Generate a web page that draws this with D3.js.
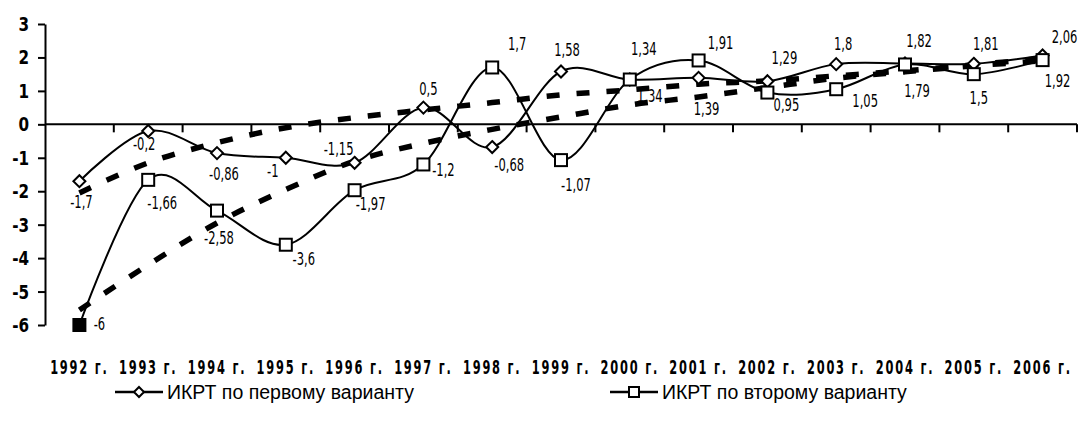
<!DOCTYPE html>
<html><head><meta charset="utf-8">
<script src="https://cdn.jsdelivr.net/npm/d3@7"></script>
<style>
html,body{margin:0;padding:0;background:#fff;}
svg{display:block;}
</style></head>
<body>
<svg id="chart" width="1081" height="422"></svg>
<script>
// ---- data ----
const years = ["1992 г.","1993 г.","1994 г.","1995 г.","1996 г.","1997 г.","1998 г.","1999 г.","2000 г.","2001 г.","2002 г.","2003 г.","2004 г.","2005 г.","2006 г."];
const series1Name = "ИКРТ по первому варианту";
const series2Name = "ИКРТ по второму варианту";
const series1 = [-1.7,-0.2,-0.86,-1,-1.15,0.5,-0.68,1.58,1.34,1.39,1.29,1.8,1.82,1.81,2.06];
const series2 = [-6,-1.66,-2.58,-3.6,-1.97,-1.2,1.7,-1.07,1.34,1.91,0.95,1.05,1.79,1.5,1.92];
// trend lines
const trend1 = [-2.05,-1.15,-0.55,-0.1,0.2,0.43,0.65,0.88,1.03,1.2,1.3,1.45,1.6,1.78,1.97];
const trend2 = [-5.55,-4.2,-2.95,-1.95,-1.1,-0.57,-0.15,0.22,0.58,0.82,1.1,1.38,1.57,1.75,1.9];
const yTicks = [-6,-5,-4,-3,-2,-1,0,1,2,3];

// label offsets (layout)
const lab1dx = [2,-4,7,-13,-16,5,17,6,20,8,17,7,14,12,22];
const lab1dy = [27,19,27,19,-8,-13,24,-15,22,37,-17,-14,-16,-14,-12];
const lab2dx = [20,14,2,18,16,20,25,15,14,22,19,29,12,5,15];
const lab2dy = [5,29,33,20,20,12,-17,31,-25,-11,18,18,33,30,27];

const fmt = v => String(v).replace(".", ",");

const svg = d3.select("#chart");
const pLeft = 45, pRight = 1077, pTop = 24, pBottom = 325;
const x = d3.scaleBand().domain(years).range([pLeft, pRight]).padding(0);
const cx = d => x(d) + x.bandwidth()/2;
const y = d3.scaleLinear().domain([-6,3]).range([pBottom, pTop]);

const FONT = "'DejaVu Sans',sans-serif";

// helper: condensed text via horizontal scaling
function ctext(g, tx, ty, str, size, weight, sx, anchor) {
  return g.append("text")
    .attr("transform", `translate(${tx},${ty}) scale(${sx},1)`)
    .attr("text-anchor", anchor || "middle")
    .attr("font-family", FONT).attr("font-size", size).attr("font-weight", weight)
    .attr("fill", "#000").text(str);
}

// Y axis
const yAxis = d3.axisLeft(y).tickValues(yTicks).tickSize(7).tickSizeOuter(0).tickFormat(d => String(d));
const gy = svg.append("g").attr("transform", `translate(${pLeft},0)`).call(yAxis);
gy.select(".domain").attr("stroke","#000").attr("stroke-width",2);
gy.selectAll(".tick line").attr("stroke","#000").attr("stroke-width",2);
gy.selectAll(".tick text").remove();
const gyl = svg.append("g");
yTicks.forEach(t => ctext(gyl, 29, y(t)+7, String(t), 19, "bold", 0.8, "end"));

// X axis line at 0
const y0 = y(0);
svg.append("line").attr("x1",pLeft).attr("x2",pRight).attr("y1",y0).attr("y2",y0).attr("stroke","#000").attr("stroke-width",2);
const bounds = years.map(d => x(d)).concat([pRight]).slice(1);
svg.append("g").selectAll("line").data(bounds).join("line")
  .attr("x1",d=>d).attr("x2",d=>d).attr("y1",y0).attr("y2",y0+8)
  .attr("stroke","#000").attr("stroke-width",2);

// X labels
const gxl = svg.append("g");
years.forEach(d => ctext(gxl, cx(d), 374, d, 19, "bold", 0.6, "middle").attr("letter-spacing", "3px"));

const line = d3.line().x((d,i)=>cx(years[i])).y(d=>y(d)).curve(d3.curveCardinal.tension(0));

// series lines
svg.append("path").datum(series1).attr("d",line).attr("fill","none").attr("stroke","#000").attr("stroke-width",2);
svg.append("path").datum(series2).attr("d",line).attr("fill","none").attr("stroke","#000").attr("stroke-width",2);

// trend lines
[trend1, trend2].forEach(t => {
  svg.append("path").datum(t).attr("d",line).attr("fill","none").attr("stroke","#000")
    .attr("stroke-width",5.5).attr("stroke-dasharray","13,17");
});

// markers series1 (diamonds)
const diamond = s => `M0,${-s}L${s},0L0,${s}L${-s},0Z`;
svg.append("g").selectAll("path").data(series1).join("path")
  .attr("d", diamond(6))
  .attr("transform",(d,i)=>`translate(${cx(years[i])},${y(d)})`)
  .attr("fill","#fff").attr("stroke","#000").attr("stroke-width",2);

// markers series2 (squares)
svg.append("g").selectAll("rect").data(series2).join("rect")
  .attr("x",(d,i)=>cx(years[i])-6).attr("y",d=>y(d)-6).attr("width",12).attr("height",12)
  .attr("fill",(d,i)=> i===0 ? "#000" : "#fff").attr("stroke","#000").attr("stroke-width",2);

// data labels
const gl = svg.append("g");
series1.forEach((d,i) => ctext(gl, cx(years[i])+lab1dx[i], y(d)+lab1dy[i], fmt(d), 17, "normal", 0.68, "middle"));
series2.forEach((d,i) => ctext(gl, cx(years[i])+lab2dx[i], y(d)+lab2dy[i], fmt(d), 17, "normal", 0.68, "middle"));

// legend
const lg = svg.append("g");
const legendItems = [{name:series1Name, x1:115, type:"diamond"},{name:series2Name, x1:610, type:"square"}];
legendItems.forEach(it => {
  const ly = 392;
  lg.append("line").attr("x1",it.x1).attr("x2",it.x1+48).attr("y1",ly).attr("y2",ly).attr("stroke","#000").attr("stroke-width",2.5);
  if (it.type==="diamond") {
    lg.append("path").attr("d",diamond(5)).attr("transform",`translate(${it.x1+24},${ly})`)
      .attr("fill","#fff").attr("stroke","#000").attr("stroke-width",2);
  } else {
    lg.append("rect").attr("x",it.x1+19).attr("y",ly-5).attr("width",10).attr("height",10)
      .attr("fill","#fff").attr("stroke","#000").attr("stroke-width",2);
  }
  lg.append("text").attr("x",it.x1+52).attr("y",ly+7).attr("font-family","'Liberation Sans',Arial,sans-serif")
    .attr("font-size",19.5).text(it.name);
});
</script>
</body></html>
